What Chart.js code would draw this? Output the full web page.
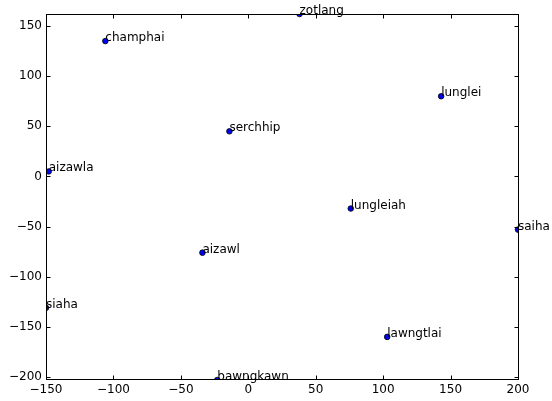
<!DOCTYPE html>
<html>
<head>
<meta charset="utf-8">
<script src="https://cdn.jsdelivr.net/npm/chart.js@4/dist/chart.umd.min.js"></script>
<style>
  html, body { margin: 0; padding: 0; background: #fff; }
  #wrap { width: 552px; height: 401px; }
</style>
</head>
<body>
<div id="wrap"><canvas id="c" width="552" height="401"></canvas></div>
<script>
const places = ['champhai', 'aizawla', 'serchhip', 'zotlang', 'lunglei', 'lungleiah', 'saiha', 'lawngtlai', 'aizawl', 'siaha', 'bawngkawn'];
const xValues = [-106, -148, -14, 38, 143, 76, 200, 103, -34, -150, -23];
const yValues = [135, 5, 45, 162, 80, -32, -53, -160, -76, -131, -203];
const xTicks = [-150, -100, -50, 0, 50, 100, 150, 200];
const yTicks = [-200, -150, -100, -50, 0, 50, 100, 150];
const xRange = [-150, 200];
const yRange = [-203, 162];

const points = places.map((p, i) => ({ x: xValues[i], y: yValues[i], label: p }));
const fmt = v => (v < 0 ? '\u2212' + Math.abs(v) : String(v));
const FONT = '12px "DejaVu Sans"';

const framePlugin = {
  id: 'frame',
  afterDatasetsDraw(chart) {
    const ctx = chart.ctx;
    const a = chart.chartArea;
    const xs = chart.scales.x, ys = chart.scales.y;
    ctx.save();
    // labels
    ctx.font = FONT;
    ctx.fillStyle = '#000';
    ctx.textAlign = 'left';
    ctx.textBaseline = 'alphabetic';
    points.forEach(p => {
      ctx.fillText(p.label, xs.getPixelForValue(p.x), ys.getPixelForValue(p.y));
    });
    // frame
    ctx.strokeStyle = '#000';
    ctx.lineWidth = 1;
    const L = Math.round(a.left) + 0.5, R = Math.round(a.right) + 0.5;
    const T = Math.round(a.top) + 0.5, B = Math.round(a.bottom) - 0.5;
    ctx.strokeRect(L, T, R - L, B - T);
    // inward ticks
    ctx.beginPath();
    xTicks.forEach(v => {
      const px = Math.round(xs.getPixelForValue(v)) + 0.5;
      ctx.moveTo(px, B); ctx.lineTo(px, B - 4);
      ctx.moveTo(px, T); ctx.lineTo(px, T + 4);
    });
    yTicks.forEach(v => {
      const py = Math.round(ys.getPixelForValue(v)) + 0.5;
      ctx.moveTo(L, py); ctx.lineTo(L + 4, py);
      ctx.moveTo(R, py); ctx.lineTo(R - 4, py);
    });
    ctx.stroke();
    ctx.restore();
  }
};

new Chart(document.getElementById('c'), {
  type: 'scatter',
  data: {
    datasets: [{
      data: points,
      backgroundColor: '#0000ff',
      borderColor: '#000000',
      borderWidth: 0.8,
      pointRadius: 2.8,
      pointHoverRadius: 2.8,
      clip: 0
    }]
  },
  options: {
    responsive: false,
    animation: false,
    devicePixelRatio: 1,
    layout: { padding: { left: 0, top: 14, right: 34, bottom: 0 } },
    plugins: { legend: { display: false }, tooltip: { enabled: false }, title: { display: false } },
    scales: {
      x: {
        type: 'linear',
        min: xRange[0], max: xRange[1],
        afterBuildTicks: s => { s.ticks = xTicks.map(v => ({ value: v })); },
        afterFit: s => { s.height = 21; },
        grid: { display: false, drawTicks: false },
        border: { display: false },
        ticks: { color: '#000', font: { family: 'DejaVu Sans', size: 12 }, padding: 3, maxRotation: 0, autoSkip: false, callback: fmt }
      },
      y: {
        type: 'linear',
        min: yRange[0], max: yRange[1],
        afterBuildTicks: s => { s.ticks = yTicks.map(v => ({ value: v })); },
        afterFit: s => { s.width = 46; },
        grid: { display: false, drawTicks: false },
        border: { display: false },
        ticks: { color: '#000', font: { family: 'DejaVu Sans', size: 12 }, padding: 4, autoSkip: false, callback: fmt }
      }
    }
  },
  plugins: [framePlugin]
});
</script>
</body>
</html>
